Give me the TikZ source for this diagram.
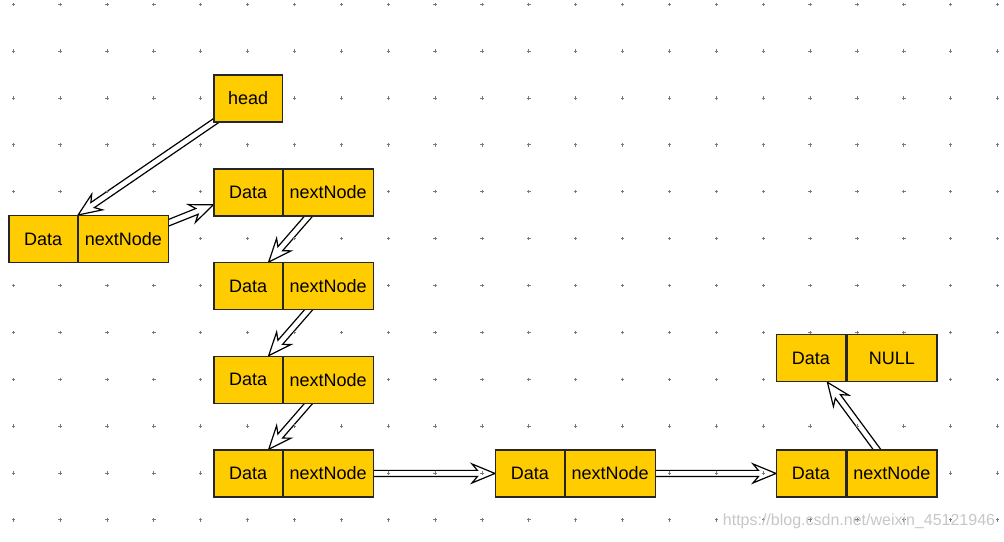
\documentclass[tikz,border=0pt]{standalone}
\usepackage{fontspec}
\setmainfont{Liberation Sans}
\usetikzlibrary{calc}
\definecolor{gold}{HTML}{FFCC00}
\definecolor{gridgray}{HTML}{7A7A7A}
\pgfdeclarelayer{bglayer}
\pgfdeclarelayer{arrowlayer}
\pgfdeclarelayer{gridlayer}
\pgfsetlayers{bglayer,arrowlayer,gridlayer,main}
\newcommand\hollowarrow[2]{%
  \draw[hollow]
    ($ ($(#1)!-4pt!(#2)$) !3.1pt!90:(#2) $)
    -- ($ ($(#2)!17.6pt!(#1)$) !3.1pt!90:(#2) $)
    -- ($ ($(#2)!23pt!(#1)$) !9.5pt!90:(#2) $)
    -- (#2)
    -- ($ ($(#2)!23pt!(#1)$) !9.5pt!-90:(#2) $)
    -- ($ ($(#2)!17.6pt!(#1)$) !3.1pt!-90:(#2) $)
    -- ($ ($(#1)!-4pt!(#2)$) !3.1pt!-90:(#2) $)
    -- cycle;}
\tikzset{
  cell/.style={draw=black!85, fill=gold, line width=1.3pt, minimum height=47pt,
    inner sep=0pt, anchor=north west, font=\fontsize{18}{20}\selectfont},
  dcell/.style={cell, minimum width=68.5pt},
  ncell/.style={cell, minimum width=90pt},
  hollow/.style={draw=black, line width=1.2pt, fill=white, line join=miter},
  gridcross/.style={draw=gridgray, line width=0.9pt},
  watermark/.style={text=black!22, font=\fontsize{16}{18}\selectfont}
}
\begin{document}
\begin{tikzpicture}[x=1pt, y=-1pt]
\useasboundingbox (0,0) rectangle (1004,541);
\begin{pgfonlayer}{bglayer}
\fill[white] (0,0) rectangle (1004,541);
\end{pgfonlayer}

% boxes
\node[dcell] (head) at (213.3,74.2) {head};
\node[dcell] (L1d) at (8.3,215) {Data};
\node[ncell] (L1n) at (77.8,215) {nextNode};
\node[dcell] (C1d) at (213.3,168.3) {Data};
\node[ncell] (C1n) at (282.5,168.3) {nextNode};
\node[dcell] (C2d) at (213.3,262) {Data};
\node[ncell] (C2n) at (282.5,262) {nextNode};
\node[dcell] (C3d) at (213.3,355.6) {Data};
\node[ncell] (C3n) at (282.5,355.6) {nextNode};
\node[dcell] (C4d) at (213.3,449.3) {Data};
\node[ncell] (C4n) at (282.5,449.3) {nextNode};
\node[dcell] (Md) at (495,449.3) {Data};
\node[ncell] (Mn) at (564.5,449.3) {nextNode};
\node[dcell] (Rd) at (776,449.3) {Data};
\node[ncell] (Rn) at (846.2,449.3) {nextNode};
\node[dcell] (Nd) at (776,334) {Data};
\node[ncell] (Nn) at (846.2,334) {NULL};

\node[watermark] (wm) at (859,521.5) {https://blog.csdn.net/weixin\_45121946};

% connector end points
\coordinate (a1) at (head.south west);
\coordinate (b1) at (L1d.north east);
\coordinate (a2) at ([yshift=16.6pt]L1n.east);
\coordinate (b2) at ([yshift=-12.4pt]C1d.west);
\coordinate (a3) at ([xshift=-20pt]C1n.south);
\coordinate (b3) at ([xshift=20.5pt]C2d.north);
\coordinate (a4) at ([xshift=-20pt]C2n.south);
\coordinate (b4) at ([xshift=20.5pt]C3d.north);
\coordinate (a5) at ([xshift=-20pt]C3n.south);
\coordinate (b5) at ([xshift=20.5pt]C4d.north);
\coordinate (a6) at (C4n.east);
\coordinate (b6) at (Md.west);
\coordinate (a7) at (Mn.east);
\coordinate (b7) at (Rd.west);
\coordinate (a8) at ([xshift=-15pt]Rn.north);
\coordinate (b8) at ([xshift=16.5pt]Nd.south);

\begin{pgfonlayer}{arrowlayer}
\hollowarrow{a1}{b1}
\hollowarrow{a2}{b2}
\hollowarrow{a3}{b3}
\hollowarrow{a4}{b4}
\hollowarrow{a5}{b5}
\hollowarrow{a6}{b6}
\hollowarrow{a7}{b7}
\hollowarrow{a8}{b8}
\end{pgfonlayer}

\begin{pgfonlayer}{gridlayer}
\foreach \i in {0,...,21}{
  \foreach \j in {0,...,11}{
    \draw[gridcross] ({13.3+46.87*\i},{4.3+46.87*\j}) +(-1.7,0) -- +(1.7,0) +(0,-1.7) -- +(0,1.7);
  }
}
\end{pgfonlayer}
\end{tikzpicture}
\end{document}
